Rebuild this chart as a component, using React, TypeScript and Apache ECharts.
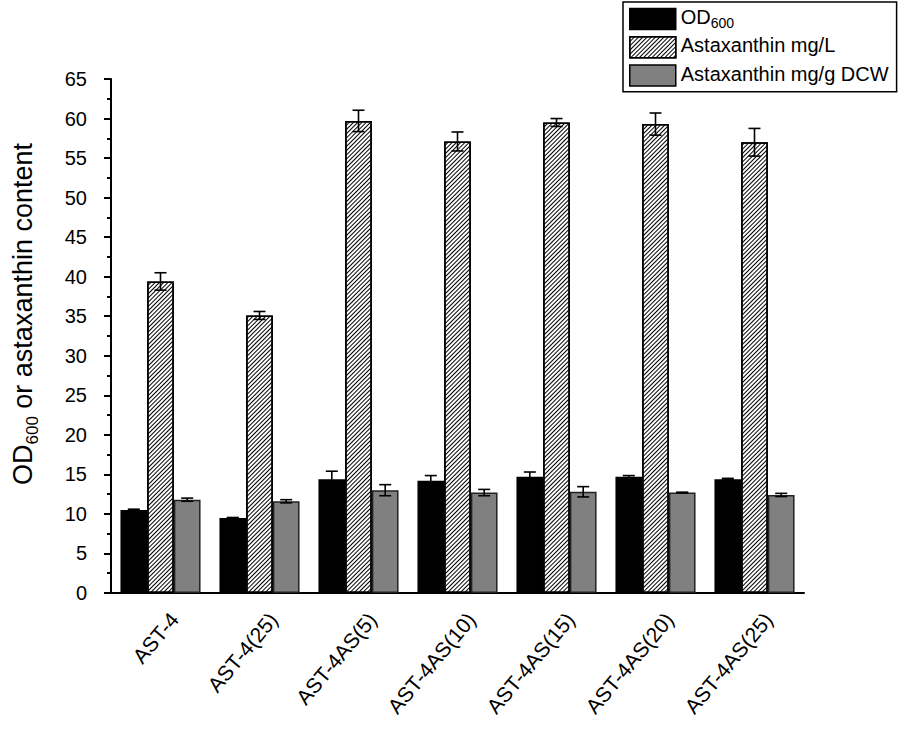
import React, { useEffect, useRef } from "react";
import * as echarts from "echarts";

const categories = ["AST-4", "AST-4(25)", "AST-4AS(5)", "AST-4AS(10)", "AST-4AS(15)", "AST-4AS(20)", "AST-4AS(25)"];
const od600 = [10.5, 9.5, 14.4, 14.2, 14.7, 14.7, 14.4];
const od600Err = [0.1, 0.05, 1.0, 0.65, 0.6, 0.15, 0.1];
const astaMgL = [39.4, 35.1, 59.7, 57.1, 59.5, 59.3, 57.0];
const astaMgLErr = [1.1, 0.5, 1.35, 1.2, 0.5, 1.4, 1.75];
const astaMgG = [11.8, 11.6, 13.0, 12.7, 12.8, 12.7, 12.4];
const astaMgGErr = [0.2, 0.2, 0.7, 0.4, 0.65, 0.05, 0.2];
const seriesNames = ["OD600", "Astaxanthin mg/L", "Astaxanthin mg/g DCW"];
const yTicks = { min: 0, max: 65, interval: 5 };

const FONT = "Liberation Sans, Arial, sans-serif";
const BAR_W = 26.7;
const GRID = { left: 111, right: 94, top: 79, bottom: 139 };

export default function App() {
  const ref = useRef<HTMLDivElement>(null);
  useEffect(() => {
    if (!ref.current) return;
    const chart = echarts.init(ref.current, null, { renderer: "svg" });
    const gridH = 732 - GRID.top - GRID.bottom;

    const hatch = {
      symbol: "rect",
      symbolSize: 1,
      dashArrayX: [1, 0],
      dashArrayY: [1, 2],
      rotation: -Math.PI / 4,
      color: "#000",
      backgroundColor: "#fff",
    };

    const errSeries = (vals: number[], errs: number[], idx: number) => ({
      type: "custom",
      name: seriesNames[idx] + " err",
      z: 5,
      silent: true,
      encode: { x: 0, y: 1 },
      data: vals.map((v, i) => [i, v, errs[i]]),
      renderItem: (params: any, api: any) => {
        const c = api.value(0);
        const v = api.value(1);
        const e = api.value(2);
        const top = api.coord([c, v + e]);
        const bot = api.coord([c, v - e]);
        const x = top[0] + (idx - 1) * BAR_W;
        const cap = 6;
        const st = { stroke: "#000", lineWidth: 1.6 };
        return {
          type: "group",
          children: [
            { type: "line", shape: { x1: x, y1: top[1], x2: x, y2: bot[1] }, style: st },
            { type: "line", shape: { x1: x - cap, y1: top[1], x2: x + cap, y2: top[1] }, style: st },
            { type: "line", shape: { x1: x - cap, y1: bot[1], x2: x + cap, y2: bot[1] }, style: st },
          ],
        };
      },
    });

    const option: any = {
      animation: false,
      backgroundColor: "#fff",
      textStyle: { fontFamily: FONT },
      grid: { ...GRID, containLabel: false },
      legend: {
        left: 623,
        top: 2,
        orient: "vertical",
        data: seriesNames,
        itemWidth: 46,
        itemHeight: 21,
        itemGap: 5,
        padding: [5, 8, 5, 6],
        borderColor: "#000",
        borderWidth: 1.5,
        icon: "rect",
        itemStyle: { borderColor: "#000", borderWidth: 1.5 },
        formatter: (name: string) =>
          name === "OD600" ? "{a|OD}{s|600}" : "{a|" + name + "}",
        textStyle: {
          color: "#000",
          rich: {
            a: { fontSize: 20, fontFamily: FONT, color: "#000", lineHeight: 22, verticalAlign: "bottom", padding: [0, 0, 3, 0] },
            s: { fontSize: 14, fontFamily: FONT, color: "#000", lineHeight: 22, verticalAlign: "bottom" },
          },
        },
      },
      xAxis: [
        {
          type: "category",
          data: categories,
          axisLine: { lineStyle: { color: "#000", width: 2 } },
          axisTick: { alignWithLabel: true, length: 7, lineStyle: { color: "#000", width: 2 } },
          axisLabel: {
            rotate: 50,
            fontSize: 21,
            color: "#000",
            fontFamily: FONT,
            margin: 11,
            verticalAlign: "top",
            lineHeight: 36,
          },
          splitLine: { show: false },
        },
        {
          type: "category",
          data: categories,
          position: "top",
          offset: -gridH,
          axisLine: { show: false },
          axisTick: { inside: true, length: 4, lineStyle: { color: "#000", width: 2 } },
          axisLabel: { show: false },
          splitLine: { show: false },
        },
      ],
      yAxis: {
        type: "value",
        min: yTicks.min,
        max: yTicks.max,
        interval: yTicks.interval,
        axisLine: { show: true, lineStyle: { color: "#000", width: 2 } },
        axisTick: { show: true, length: 7, lineStyle: { color: "#000", width: 2 } },
        minorTick: { show: true, splitNumber: 2, length: 4, lineStyle: { color: "#000", width: 2 } },
        axisLabel: { fontSize: 20, color: "#000", fontFamily: FONT, margin: 24 },
        splitLine: { show: false },
      },
      graphic: [
        {
          type: "text",
          x: 25,
          y: 314,
          rotation: Math.PI / 2,
          style: {
            text: "{a|OD}{s|600}{a| or astaxanthin content}",
            align: "center",
            verticalAlign: "middle",
            rich: {
              a: { fontSize: 27, fontFamily: FONT, fill: "#000", lineHeight: 32, verticalAlign: "bottom", padding: [0, 0, 5, 0] },
              s: { fontSize: 17, fontFamily: FONT, fill: "#000", lineHeight: 32, verticalAlign: "bottom" },
            },
          },
        },
      ],
      series: [
        {
          type: "bar",
          name: seriesNames[0],
          data: od600,
          barWidth: BAR_W,
          barGap: "0%",
          itemStyle: { color: "#000", borderColor: "#000", borderWidth: 1.5 },
        },
        {
          type: "bar",
          name: seriesNames[1],
          data: astaMgL,
          barWidth: BAR_W,
          barGap: "0%",
          itemStyle: { color: "#fff", borderColor: "#000", borderWidth: 1.5, decal: hatch },
        },
        {
          type: "bar",
          name: seriesNames[2],
          data: astaMgG,
          barWidth: BAR_W,
          barGap: "0%",
          itemStyle: { color: "#808080", borderColor: "#222", borderWidth: 1.5 },
        },
        errSeries(od600, od600Err, 0),
        errSeries(astaMgL, astaMgLErr, 1),
        errSeries(astaMgG, astaMgGErr, 2),
      ],
    };
    chart.setOption(option);
    return () => chart.dispose();
  }, []);
  return (
    <div
      ref={ref}
      style={{ position: "fixed", left: 0, top: 0, width: 898, height: 732, background: "#fff" }}
    />
  );
}
